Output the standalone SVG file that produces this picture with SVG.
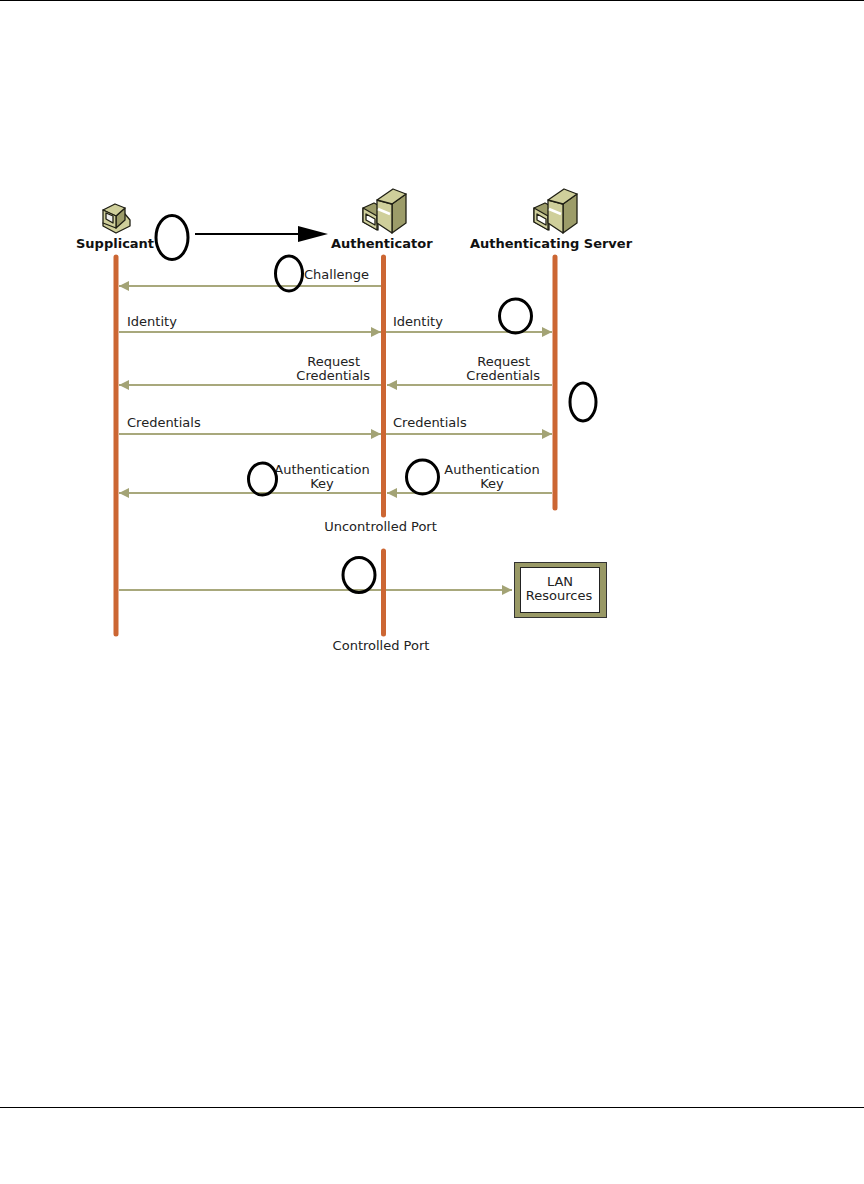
<svg xmlns="http://www.w3.org/2000/svg" width="864" height="1184" viewBox="0 0 864 1184">
<style>
text{font-family:"DejaVu Sans",sans-serif;font-size:13px;fill:#222}
.b{font-weight:bold;font-size:13px;fill:#111}
.life{stroke:#cc6633;stroke-width:5;stroke-linecap:round;fill:none}
.msg{stroke:#a8a87c;stroke-width:2.2;fill:none}
.r{marker-end:url(#ah)}
.mk{fill:none;stroke:#000;stroke-width:3}
.ic{stroke:#1f1f14;stroke-width:1.3;stroke-linejoin:round}
.l{fill:#cfcf9b}.d{fill:#9c9c69}
</style>
<defs>
<marker id="ah" markerUnits="userSpaceOnUse" markerWidth="12" markerHeight="12" refX="10" refY="6" orient="auto"><path d="M0 1L10 6L0 11Z" fill="#a3a375"/></marker>
<g id="srv">
<path class="ic d" d="M-14 -16L-3 -21L1 -19V6L-14 -2Z"/>
<path class="ic l" d="M-14 -16L0 -8V6L-14 -2Z"/>
<path class="ic" fill="#fff" d="M-11 -10L-2 -5V1L-11 -4Z"/>
<path class="ic d" d="M15 -20L29 -30V-1L15 9Z"/>
<path class="ic l" d="M0 -24L15 -20V9L0 -1Z"/>
<path class="ic l" d="M0 -24L16 -35L29 -30L15 -20Z"/>
<path d="M1 -15L13 -10" stroke="#fff" stroke-width="2.500"/>
</g>
</defs>
<rect width="864" height="1184" fill="#fff"/>
<g id="page-rules" stroke="#000" stroke-width="1"><path d="M0 .5H864M0 1107.5H864"/></g>
<g id="connectors">
<path class="life" d="M116 257V634"/>
<path class="life" d="M383.500 257V515"/>
<path class="life" d="M383.500 551V634"/>
<path class="life" d="M555 257V508"/>
<path class="msg r" d="M381 286H119"/>
<path class="msg r" d="M119 332H381"/>
<path class="msg r" d="M386 332H552"/>
<path class="msg r" d="M552 385H387"/>
<path class="msg r" d="M381 385H119"/>
<path class="msg r" d="M119 434H381"/>
<path class="msg r" d="M386 434H552"/>
<path class="msg r" d="M552 493H387"/>
<path class="msg r" d="M381 493H119"/>
<path class="msg" d="M119 590H381"/>
<path class="msg r" d="M386 590H512"/>
<path d="M195 234H302" stroke="#000" stroke-width="2" fill="none"/>
<path d="M298 226L328 234L298 242Z" fill="#000"/>
</g>
<g id="supplicant">
<path class="ic l" d="M103 223L125 214L130 220V226L116 233L103 226Z"/>
<path class="ic d" d="M116 216L125 208V220L116 228Z"/>
<path class="ic l" d="M103 210L115 204L125 208L116 216Z"/>
<path class="ic l" d="M103 210L116 216V228L103 223Z"/>
<path class="ic" fill="#eee" d="M106 213L113 216V223L106 219Z"/>
<text class="b" x="76" y="248">Supplicant</text>
</g>
<g id="authenticator"><use href="#srv" x="377" y="224"/><text class="b" x="331" y="248">Authenticator</text></g>
<g id="authenticating-server"><use href="#srv" x="548" y="224"/><text class="b" x="470" y="248">Authenticating Server</text></g>
<g id="labels">
<text x="304" y="279">Challenge</text>
<text x="127" y="326">Identity</text>
<text x="393" y="326">Identity</text>
<text x="360" y="366" text-anchor="end">Request</text>
<text x="370" y="380" text-anchor="end">Credentials</text>
<text x="530" y="366" text-anchor="end">Request</text>
<text x="540" y="380" text-anchor="end">Credentials</text>
<text x="127" y="427">Credentials</text>
<text x="393" y="427">Credentials</text>
<text x="322" y="474" text-anchor="middle">Authentication</text>
<text x="322" y="488" text-anchor="middle">Key</text>
<text x="492" y="474" text-anchor="middle">Authentication</text>
<text x="492" y="488" text-anchor="middle">Key</text>
<text x="380.500" y="531" text-anchor="middle">Uncontrolled Port</text>
<text x="381" y="650" text-anchor="middle">Controlled Port</text>
</g>
<g id="lan-resources">
<rect x="514.500" y="562.500" width="92" height="55" fill="#999966" stroke="#333" stroke-width="1"/>
<rect x="520.500" y="567.500" width="79" height="45" fill="#fff" stroke="#222" stroke-width="1"/>
<text x="560" y="586" text-anchor="middle">LAN</text>
<text x="559" y="600" text-anchor="middle">Resources</text>
</g>
<g id="markers">
<ellipse class="mk" cx="172" cy="237.500" rx="16" ry="22"/>
<ellipse class="mk" cx="289" cy="273.500" rx="13.500" ry="17.500"/>
<ellipse class="mk" cx="515.500" cy="316" rx="16" ry="17"/>
<ellipse class="mk" cx="583" cy="402" rx="13" ry="19"/>
<ellipse class="mk" cx="262.500" cy="479" rx="14" ry="16"/>
<ellipse class="mk" cx="422.500" cy="477" rx="16" ry="17"/>
<ellipse class="mk" cx="359" cy="575" rx="16" ry="17.500"/>
</g>
</svg>
